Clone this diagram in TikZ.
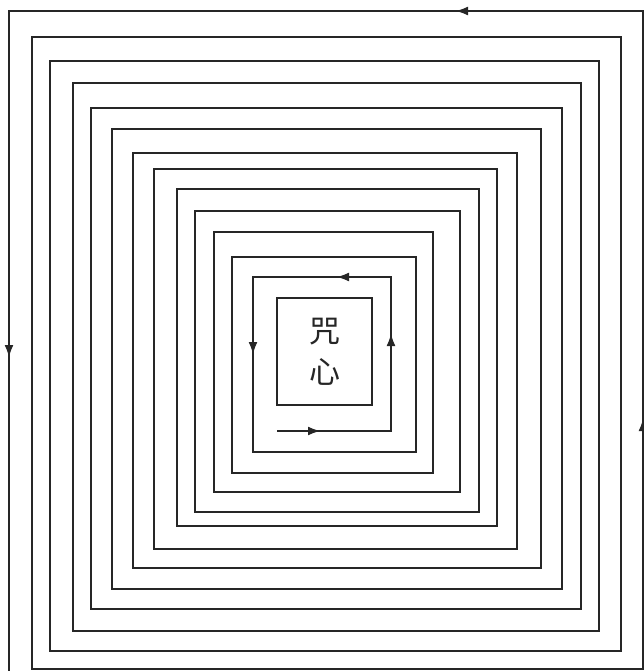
\documentclass[tikz,border=0pt]{standalone}
\usepackage{fontspec}
\newfontfamily\cjk{Noto Sans CJK SC}
\usetikzlibrary{arrows.meta}
\definecolor{ink}{HTML}{262626}

\begin{document}
\begin{tikzpicture}[
  x=1pt, y=-1pt,
  >={Latex[length=13pt, width=9pt]},
  spiral/.style={draw=ink, line width=1.6pt, line join=miter},
  flow/.style={draw=ink, line width=2.8pt, ->},
  core/.style={draw=ink, line width=2.6pt, minimum width=95pt, minimum height=107pt, inner sep=0pt, align=center, text=ink, font=\cjk\fontsize{31}{41}\selectfont},
]

% Canvas
\useasboundingbox (0,0) rectangle (644,671);

% Square spiral, from the centre outwards (right line / top line / left line / next bottom line)
\draw[spiral] (277,431)
  \foreach \r/\t/\l/\e in {391/277/253/452, 416/257/232/473, 433/232/214/492,
                           460/211/195/512, 479/189/177/526, 497/169/154/549,
                           517/153/133/568, 541/129/112/589, 562/108/91/609,
                           581/83/73/631, 599/61/50/651, 621/37/32/669,
                           643/11/9/672}
  { -| (\r,\t) -| (\l,\e) };

% Centre box
\node[core] (heart) at (324.5,351.5) {咒\\心};

% Arrows on the outer turn
\draw[flow] (548,11) -- (455,11);
\draw[flow] (9,258) -- (9,358);
\draw[flow] (643,490) -- (643,418);

% Arrows on the inner turn
\draw[flow] (277,431) -- (321,431);
\draw[flow] (391,382) -- (391,333);
\draw[flow] (376,277) -- (336,277);
\draw[flow] (253,307) -- (253,355);

\end{tikzpicture}
\end{document}
